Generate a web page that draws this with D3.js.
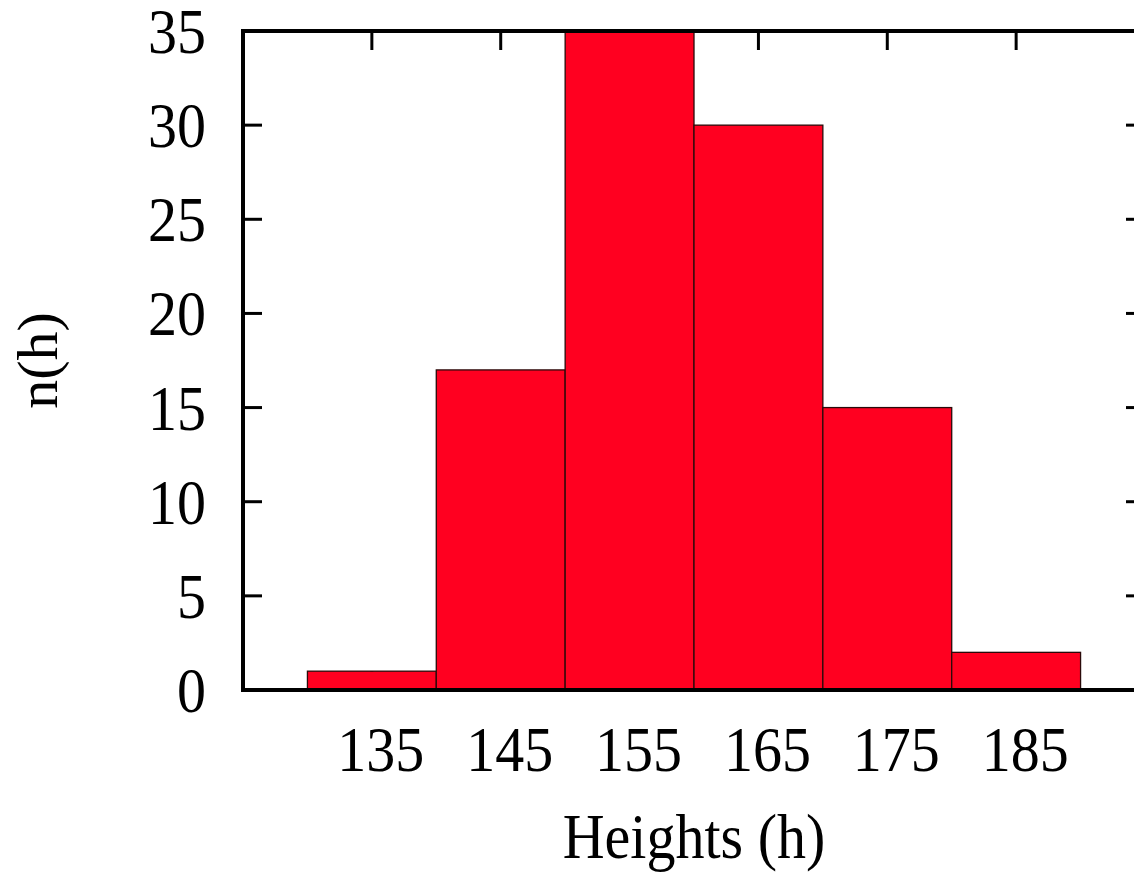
<!DOCTYPE html>
<html>
<head>
<meta charset="utf-8">
<script src="https://cdn.jsdelivr.net/npm/d3@7"></script>
<style>
  html, body { margin: 0; padding: 0; background: #fff; overflow: hidden; }
  svg { display: block; }
</style>
</head>
<body>
<svg id="chart" width="1134" height="872"></svg>
<script>
// ===== Data =====
const binStarts = [130, 140, 150, 160, 170, 180];
const counts = [1, 17, 35, 30, 15, 2];
const binWidth = 10;
const xTicks = [135, 145, 155, 165, 175, 185];
const yTicks = [0, 5, 10, 15, 20, 25, 30, 35];

// ===== Layout =====
const plotLeft = 243, plotRight = 1145, plotTop = 31, plotBottom = 690;
const tickLen = 19;
const fontFamily = "'Liberation Serif', 'DejaVu Serif', serif";
const textStretch = 1.08; // reference glyphs are a bit taller than wide

const svg = d3.select("#chart");

const x = d3.scaleLinear().domain([125, 195]).range([plotLeft, plotRight]);
const y = d3.scaleLinear().domain([0, 35]).range([plotBottom, plotTop]);

// ticks (drawn first, bars cover them like gnuplot)
const ticks = svg.append("g").attr("stroke", "#000").attr("stroke-width", 3);
xTicks.forEach(t => {
  ticks.append("line").attr("x1", x(t)).attr("x2", x(t)).attr("y1", plotBottom).attr("y2", plotBottom - tickLen);
  ticks.append("line").attr("x1", x(t)).attr("x2", x(t)).attr("y1", plotTop).attr("y2", plotTop + tickLen);
});
yTicks.forEach(t => {
  ticks.append("line").attr("x1", plotLeft).attr("x2", plotLeft + tickLen).attr("y1", y(t)).attr("y2", y(t));
  ticks.append("line").attr("x1", plotRight).attr("x2", plotRight - tickLen).attr("y1", y(t)).attr("y2", y(t));
});

// bars
svg.append("g")
  .selectAll("rect")
  .data(binStarts.map((b, i) => ({ start: b, n: counts[i] })))
  .enter()
  .append("rect")
  .attr("x", d => x(d.start))
  .attr("y", d => y(d.n))
  .attr("width", d => x(d.start + binWidth) - x(d.start))
  .attr("height", d => y(0) - y(d.n))
  .attr("fill", "#ff0020")
  .attr("stroke", "#2a0a0a")
  .attr("stroke-width", 1.3);

// border
svg.append("rect")
  .attr("x", plotLeft)
  .attr("y", plotTop)
  .attr("width", plotRight - plotLeft)
  .attr("height", plotBottom - plotTop)
  .attr("fill", "none")
  .attr("stroke", "#000")
  .attr("stroke-width", 4);

// tick labels
svg.append("g")
  .selectAll("text")
  .data(xTicks)
  .enter()
  .append("text")
  .attr("transform", d => `translate(${x(d) + 9}, 771) scale(1, ${textStretch})`)
  .attr("text-anchor", "middle")
  .style("font-family", fontFamily)
  .style("font-size", "58px")
  .text(d => d);

svg.append("g")
  .selectAll("text")
  .data(yTicks)
  .enter()
  .append("text")
  .attr("transform", d => `translate(206, ${y(d) + 22}) scale(1, ${textStretch})`)
  .attr("text-anchor", "end")
  .style("font-family", fontFamily)
  .style("font-size", "58px")
  .text(d => d);

// axis titles
svg.append("text")
  .attr("transform", `translate(${(plotLeft + plotRight) / 2}, 858) scale(1, ${textStretch})`)
  .attr("text-anchor", "middle")
  .style("font-family", fontFamily)
  .style("font-size", "58px")
  .text("Heights (h)");

svg.append("text")
  .attr("transform", `translate(57, ${(plotTop + plotBottom) / 2}) rotate(-90)`)
  .attr("text-anchor", "middle")
  .style("font-family", fontFamily)
  .style("font-size", "58px")
  .text("n(h)");
</script>
</body>
</html>
